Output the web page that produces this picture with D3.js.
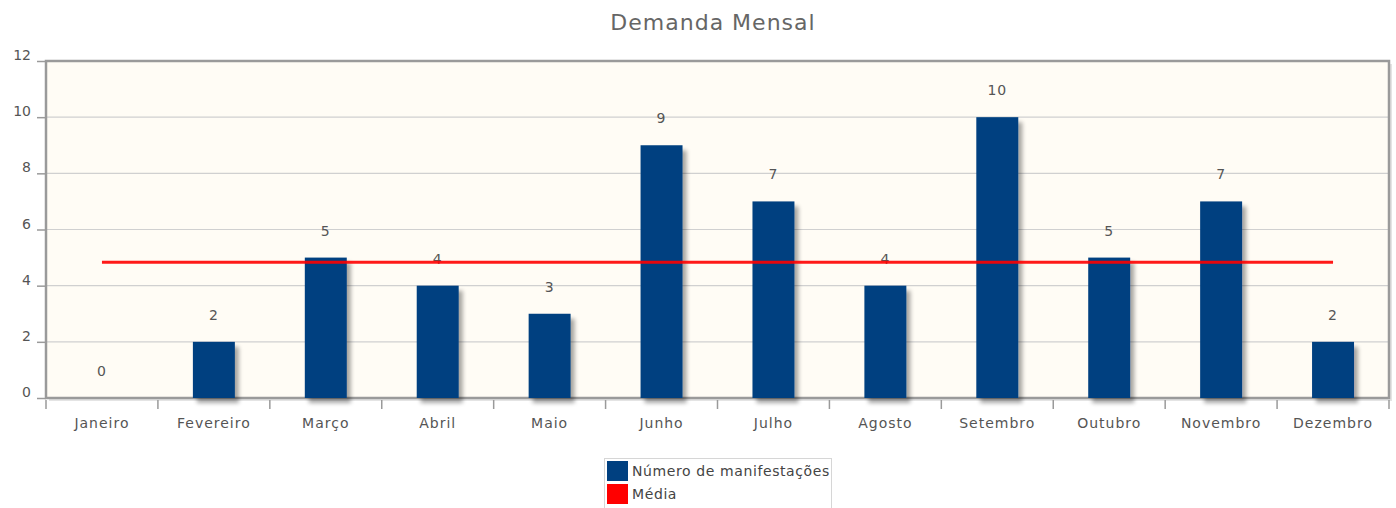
<!DOCTYPE html>
<html>
<head>
<meta charset="utf-8">
<script src="https://cdn.jsdelivr.net/npm/d3@7"></script>
<style>
    body { margin: 0; background: #fff; }
    text { font-family: "DejaVu Sans", Verdana, sans-serif; }
</style>
</head>
<body>
<div id="chart"></div>
<script>
// chart data
const months = ["Janeiro", "Fevereiro", "Março", "Abril", "Maio", "Junho",
    "Julho", "Agosto", "Setembro", "Outubro", "Novembro", "Dezembro"];
const manifestacoes = [0, 2, 5, 4, 3, 9, 7, 4, 10, 5, 7, 2];
const media = [4.83, 4.83, 4.83, 4.83, 4.83, 4.83, 4.83, 4.83, 4.83, 4.83, 4.83, 4.83];
const yTicks = [0, 2, 4, 6, 8, 10, 12];
const legendItems = [
    {label: "Número de manifestações", color: "#004080"},
    {label: "Média", color: "#ff0000"}
];

const WIDTH = 1396;
const HEIGHT = 508;
const margin = {top: 61, right: 7, bottom: 110, left: 46};
const width = WIDTH - margin.left - margin.right;
const height = HEIGHT - margin.top - margin.bottom;

const svg = d3.select("#chart").append("svg")
    .attr("width", WIDTH)
    .attr("height", HEIGHT);

// shadow filter for bars
const defs = svg.append("defs");
const shadow = defs.append("filter").attr("id", "shadow")
    .attr("x", "-20%").attr("y", "-20%").attr("width", "160%").attr("height", "160%");
shadow.append("feGaussianBlur").attr("in", "SourceAlpha").attr("stdDeviation", 2);
shadow.append("feOffset").attr("dx", 4).attr("dy", 5).attr("result", "off");
shadow.append("feComponentTransfer").append("feFuncA").attr("type", "linear").attr("slope", 0.35);
const merge = shadow.append("feMerge");
merge.append("feMergeNode");
merge.append("feMergeNode").attr("in", "SourceGraphic");

svg.append("text")
    .attr("x", 713)
    .attr("y", 30)
    .attr("text-anchor", "middle")
    .attr("fill", "#666")
    .style("font-size", "22px")
    .style("letter-spacing", "1px")
    .text("Demanda Mensal");

const g = svg.append("g")
    .attr("transform", "translate(" + margin.left + "," + margin.top + ")");

const x = d3.scaleBand()
    .domain(months)
    .range([0, width])
    .paddingInner(0.625)
    .paddingOuter(0.3125);

const y = d3.scaleLinear()
    .domain([0, 12])
    .range([height, 0]);

// plot background + frame shadow
g.append("rect")
    .attr("x", 3).attr("y", 3)
    .attr("width", width).attr("height", height)
    .attr("fill", "#e4e4e4");
g.append("rect")
    .attr("width", width).attr("height", height)
    .attr("fill", "#fffcf5");

// gridlines
g.selectAll(".grid").data(yTicks.filter(d => d > 0 && d < 12))
    .enter().append("line")
    .attr("class", "grid")
    .attr("x1", 0).attr("x2", width)
    .attr("y1", d => y(d)).attr("y2", d => y(d))
    .attr("stroke", "#d0d0d0")
    .attr("stroke-width", 1.2);

// frame
g.append("rect")
    .attr("width", width).attr("height", height)
    .attr("fill", "none")
    .attr("stroke", "#9a9a9a")
    .attr("stroke-width", 2.5);

// y axis
const yAxis = d3.axisLeft(y).tickValues(yTicks).tickSize(9).tickPadding(6);
const yg = g.append("g").call(yAxis);
yg.select(".domain").remove();
yg.selectAll(".tick line").attr("stroke", "#9a9a9a").attr("stroke-width", 1.5);
yg.selectAll(".tick text").attr("fill", "#555").style("font-size", "14px").attr("dy", "-0.1em");

// x axis: ticks on band boundaries
const boundaries = d3.range(months.length + 1).map(i => i * width / months.length);
g.selectAll(".xtick").data(boundaries)
    .enter().append("line")
    .attr("class", "xtick")
    .attr("x1", d => d).attr("x2", d => d)
    .attr("y1", height + 2).attr("y2", height + 11)
    .attr("stroke", "#9a9a9a")
    .attr("stroke-width", 1.5);

g.selectAll(".xlabel").data(months)
    .enter().append("text")
    .attr("class", "xlabel")
    .attr("x", d => x(d) + x.bandwidth() / 2)
    .attr("y", height + 30)
    .attr("text-anchor", "middle")
    .attr("fill", "#555")
    .style("font-size", "14px")
    .style("letter-spacing", "1px")
    .text(d => d);

// bars
const bars = months.map((m, i) => ({month: m, value: manifestacoes[i]}));
g.selectAll(".bar").data(bars.filter(d => d.value > 0))
    .enter().append("rect")
    .attr("class", "bar")
    .attr("x", d => x(d.month))
    .attr("y", d => y(d.value))
    .attr("width", x.bandwidth())
    .attr("height", d => height - y(d.value))
    .attr("fill", "#004080")
    .attr("filter", "url(#shadow)");

// value labels
g.selectAll(".bar-label").data(bars)
    .enter().append("text")
    .attr("class", "bar-label")
    .attr("x", d => x(d.month) + x.bandwidth() / 2)
    .attr("y", d => y(d.value) - 22)
    .attr("text-anchor", "middle")
    .attr("fill", "#555")
    .style("font-size", "14px")
    .style("letter-spacing", "1px")
    .text(d => d.value);

// média line
const line = d3.line()
    .x((d, i) => x(months[i]) + x.bandwidth() / 2)
    .y(d => y(d));
g.append("path")
    .datum(media)
    .attr("d", line)
    .attr("fill", "none")
    .attr("stroke", "#ff0000")
    .attr("stroke-width", 3)
    .attr("stroke-opacity", 0.9);

// legend
const lg = svg.append("g").attr("transform", "translate(604,458)");
lg.append("rect")
    .attr("x", 0.5).attr("y", 0.5)
    .attr("width", 227).attr("height", 52)
    .attr("fill", "#fff")
    .attr("stroke", "#d6d6d6");
legendItems.forEach((d, i) => {
    lg.append("rect")
        .attr("x", 3).attr("y", 3 + i * 23)
        .attr("width", 21).attr("height", 20)
        .attr("fill", d.color);
    lg.append("text")
        .attr("x", 28).attr("y", 18 + i * 23)
        .attr("fill", "#444")
        .style("font-size", "14px")
        .style("letter-spacing", "0.6px")
        .text(d.label);
});
</script>
</body>
</html>
